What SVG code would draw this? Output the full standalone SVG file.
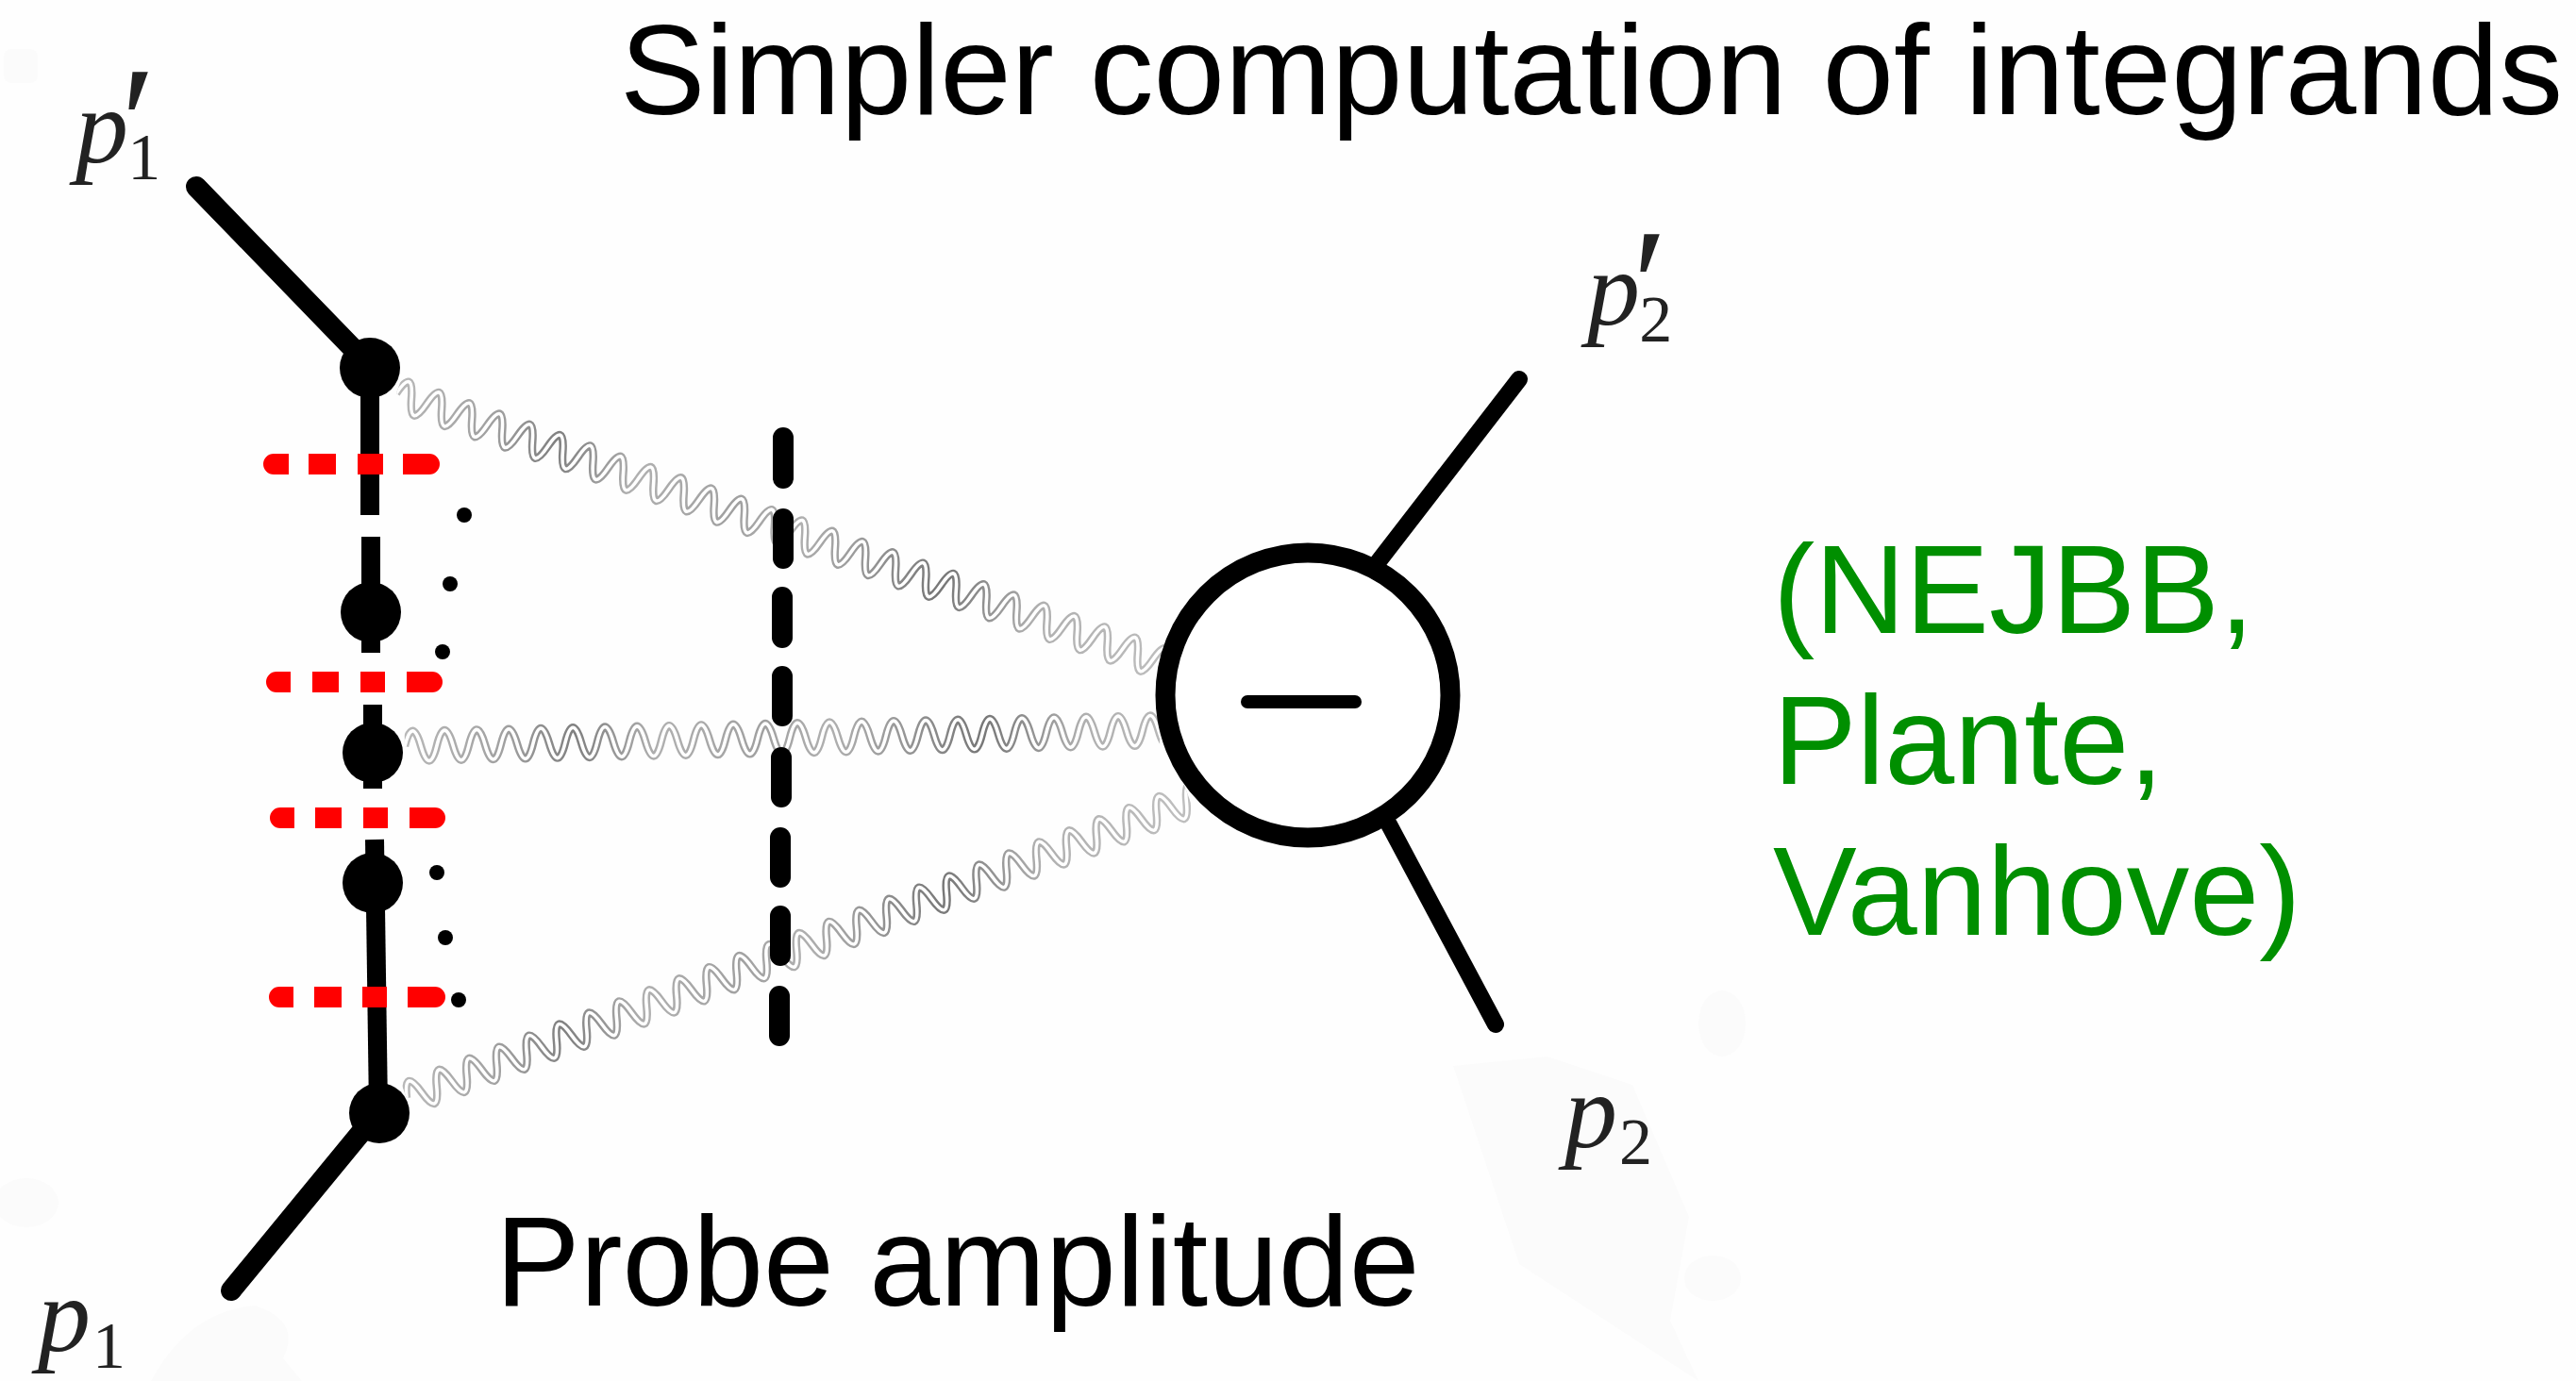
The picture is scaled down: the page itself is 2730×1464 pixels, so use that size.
<svg xmlns="http://www.w3.org/2000/svg" width="2730" height="1464" viewBox="0 0 2730 1464">
<style>
.t{font-family:"Liberation Sans",Arial,sans-serif;font-size:135.7px;fill:#000}
.c{font-size:134.5px}
.g{fill:#008f00;font-size:133px}
.m{font-family:"Liberation Serif","Times New Roman",serif;fill:#222}
.mi{font-style:italic;font-size:112px}
.ms{font-size:70px}
.pr{font-size:170px;font-weight:400}
.l{stroke:#000;fill:none;stroke-linecap:round}
.v{stroke:#000;stroke-width:20;fill:none}
.r{fill:#f00}
.wo{fill:none;stroke:url(#wg);stroke-width:8.5}
.wi{fill:none;stroke:#fff;stroke-width:3.6}
.b{fill:#fbfbfb}
</style>
<defs>
<linearGradient id="wg" gradientUnits="userSpaceOnUse" x1="0" y1="0" x2="900" y2="0">
<stop offset="0" stop-color="#b8b8b8"/><stop offset=".12" stop-color="#a0a0a0"/><stop offset=".2" stop-color="#808080"/><stop offset=".3" stop-color="#b0b0b0"/><stop offset=".42" stop-color="#a0a0a0"/><stop offset=".5" stop-color="#b0b0b0"/><stop offset=".58" stop-color="#999"/><stop offset=".68" stop-color="#777"/><stop offset=".8" stop-color="#b0b0b0"/><stop offset="1" stop-color="#c0c0c0"/>
</linearGradient>
<path id="wave" d="M0 0q8.5 -32 17 0t17 0t17 0t17 0t17 0t17 0t17 0t17 0t17 0t17 0t17 0t17 0t17 0t17 0t17 0t17 0t17 0t17 0t17 0t17 0t17 0t17 0t17 0t17 0t17 0t17 0t17 0t17 0t17 0t17 0t17 0t17 0t17 0t17 0t17 0t17 0t17 0t17 0t17 0t17 0t17 0t17 0t17 0t17 0t17 0t17 0t17 0t17 0t17 0t17 0t17 0t17 0t17 0t17 0t17 0"/>
<clipPath id="c1"><rect x="0" y="-30" width="860" height="60"/></clipPath>
<clipPath id="c2"><rect x="0" y="-30" width="800" height="60"/></clipPath>
<clipPath id="c3"><rect x="0" y="-30" width="888" height="60"/></clipPath>
</defs>
<rect width="2730" height="1464" fill="#fefefe"/>
<g id="background-marks">
<rect class="b" x="4" y="52" width="36" height="36" rx="8"/>
<ellipse class="b" cx="28" cy="1275" rx="34" ry="26"/>
<path class="b" d="M160 1464Q200 1390 270 1384Q320 1400 300 1440L320 1464Z"/>
<path class="b" d="M1540 1130L1640 1120L1730 1150L1790 1290L1770 1400L1800 1464L1610 1340Z"/>
<ellipse class="b" cx="1825" cy="1085" rx="25" ry="35"/>
<ellipse class="b" cx="1815" cy="1355" rx="30" ry="24"/>
</g>
<g id="connectors">
<g id="gluons">
<g transform="translate(420 417) rotate(19.4)" clip-path="url(#c1)"><use href="#wave" class="wo"/><use href="#wave" class="wi"/></g>
<g transform="translate(429 791) rotate(-1.2)" clip-path="url(#c2)"><use href="#wave" class="wo"/><use href="#wave" class="wi"/></g>
<g transform="translate(431 1164) rotate(-20.8)" clip-path="url(#c3)"><use href="#wave" class="wo"/><use href="#wave" class="wi"/></g>
</g>
<g id="probe-line">
<line class="l" x1="208" y1="198" x2="392" y2="388" stroke-width="22"/>
<line class="v" x1="392" y1="388" x2="392" y2="546"/>
<line class="v" x1="393" y1="569" x2="393" y2="692"/>
<line class="v" x1="395" y1="747" x2="395" y2="836"/>
<line class="v" x1="397" y1="890" x2="401" y2="1177"/>
<line class="l" x1="245" y1="1368" x2="402" y2="1177" stroke-width="22"/>
</g>
<g id="cut-line" class="l" stroke-width="22">
<line x1="830" y1="464" x2="830" y2="507"/>
<line x1="830" y1="550" x2="830" y2="592"/>
<line x1="829" y1="633" x2="829" y2="676"/>
<line x1="829" y1="717" x2="829" y2="759"/>
<line x1="828" y1="803" x2="828" y2="845"/>
<line x1="827" y1="888" x2="827" y2="930"/>
<line x1="827" y1="971" x2="827" y2="1013"/>
<line x1="826" y1="1056" x2="826" y2="1098"/>
</g>
<g id="blob-legs" class="l" stroke-width="18">
<line x1="1610" y1="402" x2="1461" y2="595"/>
<line x1="1585" y1="1086" x2="1472" y2="874"/>
</g>
</g>
<g id="red-cuts" class="r">
<path d="M306 481H290a11 11 0 0 0 0 22H306ZM327 481h29v22h-29ZM379 481h27v22h-27ZM427 481h28a11 11 0 0 1 0 22H427Z"/>
<path d="M308 712H293a11 11 0 0 0 0 22H308ZM331 712h28v22h-28ZM382 712h26v22h-26ZM431 712h27a11 11 0 0 1 0 22H431Z"/>
<path d="M312 856H297a11 11 0 0 0 0 22H312ZM334 856h28v22h-28ZM385 856h26v22h-26ZM434 856h27a11 11 0 0 1 0 22H434Z"/>
<path d="M311 1046H296a11 11 0 0 0 0 22H311ZM333 1046h29v22h-29ZM384 1046h26v22h-26ZM432 1046h29a11 11 0 0 1 0 22H432Z"/>
</g>
<g id="node-v1"><circle cx="392" cy="390" r="32"/></g>
<g id="node-v2"><circle cx="393" cy="649" r="32"/></g>
<g id="node-v3"><circle cx="395" cy="798" r="32"/></g>
<g id="node-v4"><circle cx="395" cy="936" r="32"/></g>
<g id="node-v5"><circle cx="402" cy="1180" r="32"/></g>
<g id="dots">
<circle cx="492" cy="546" r="8"/><circle cx="477" cy="619" r="8"/><circle cx="469" cy="691" r="8"/>
<circle cx="463" cy="925" r="8"/><circle cx="472" cy="994" r="8"/><circle cx="486" cy="1060" r="8"/>
</g>
<g id="blob">
<circle cx="1386" cy="737" r="151" fill="#fff" stroke="#000" stroke-width="21"/>
<line class="l" x1="1322" y1="744" x2="1436" y2="744" stroke-width="14"/>
</g>
<text id="label-p1prime" class="m" x="80" y="172"><tspan class="mi">p</tspan><tspan class="pr" dx="-8" dy="15">′</tspan><tspan class="ms" dx="-30" dy="3">1</tspan></text>
<text id="label-p2prime" class="m" x="1682" y="344"><tspan class="mi">p</tspan><tspan class="pr" dx="-8" dy="15">′</tspan><tspan class="ms" dx="-30" dy="3">2</tspan></text>
<text id="label-p2" class="m" x="1658" y="1216"><tspan class="mi">p</tspan><tspan class="ms" dx="2" dy="18">2</tspan></text>
<text id="label-p1" class="m" x="40" y="1432"><tspan class="mi">p</tspan><tspan class="ms" dx="2" dy="18">1</tspan></text>
<text id="title" class="t" x="657" y="121">Simpler computation of integrands</text>
<text id="caption" class="t c" x="525" y="1384">Probe amplitude</text>
<g id="authors"><text x="1879" y="671" class="t g">(NEJBB,</text><text x="1879" y="831" class="t g">Plante,</text><text x="1879" y="991" class="t g">Vanhove)</text></g>
</svg>
